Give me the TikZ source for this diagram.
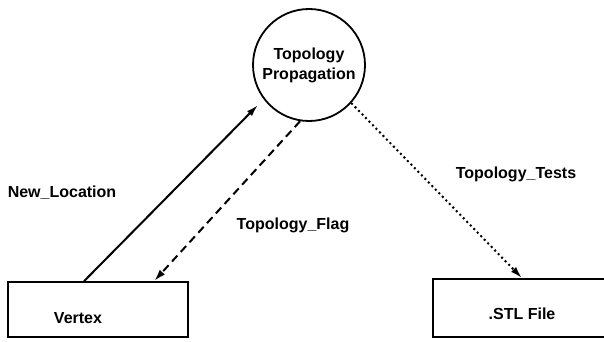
\documentclass[tikz,border=0pt]{standalone}
\usepackage{fontspec}
\setmainfont{Liberation Sans}
\usetikzlibrary{arrows.meta,calc}
\begin{document}
\begin{tikzpicture}[x=1pt,y=-1pt,
  every node/.style={font=\fontsize{16}{20}\selectfont\bfseries},
  proc/.style={draw,circle,line width=1.8pt,minimum size=112pt,inner sep=0pt,align=center},
  store/.style={draw,rectangle,line width=1.8pt,inner sep=0pt},
  flowline/.style={line width=2pt,-{Latex[length=12pt,width=7pt]}},
  lbl/.style={inner sep=0pt}]
\clip (0,0) rectangle (604,342);
\fill[white] (0,0) rectangle (604,342);
\node[proc] (topo) at (309,65) {Topology\\Propagation};
\node[store,minimum width=180pt,minimum height=55pt] (vertex) at (98,309.5) {};
\node[lbl] (vertextext) at (78,318) {Vertex};
\node[store,minimum width=178pt,minimum height=58pt] (stl) at (522,308) {};
\node[lbl] (stltext) at (522,314) {.STL File};
\coordinate (vsrc) at ($(vertex.north west)+(77,0)$);
\coordinate (vdst) at ($(vertex.north west)+(147,0)$);
\coordinate (ttip) at (258,105);
\draw[flowline] (vsrc) -- (ttip);
\draw[flowline,dash pattern=on 8pt off 5pt] (topo.261) -- (vdst);
\draw[flowline,dash pattern=on 2pt off 3pt] (topo.-42) -- (stl.north);
\node[lbl] (newloc) at (62,193) {New\_Location};
\node[lbl] (tflag) at (293,225) {Topology\_Flag};
\node[lbl] (ttests) at (516,174) {Topology\_Tests};
\end{tikzpicture}
\end{document}
